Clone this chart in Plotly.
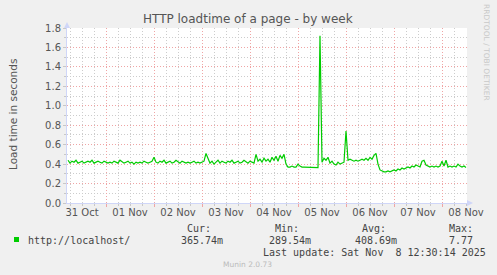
import datetime as dt
import plotly.graph_objects as go

# ---- data -----------------------------------------------------------------
start = dt.datetime(2025, 10, 31, 4, 30)
end = dt.datetime(2025, 11, 8, 12, 30)

load_seconds = [
    0.44, 0.41, 0.43, 0.42, 0.44, 0.41, 0.42, 0.43, 0.41, 0.42,
    0.43, 0.42, 0.44, 0.41, 0.42, 0.43, 0.42, 0.41, 0.43, 0.42,
    0.41, 0.42, 0.41, 0.43, 0.42, 0.41, 0.44, 0.42, 0.41, 0.42,
    0.43, 0.41, 0.42, 0.40, 0.42, 0.41, 0.42, 0.41, 0.43, 0.42,
    0.41, 0.42, 0.43, 0.47, 0.42, 0.41, 0.43, 0.42, 0.44, 0.41,
    0.42, 0.43, 0.41, 0.42, 0.44, 0.42, 0.41, 0.43, 0.42, 0.41,
    0.42, 0.41, 0.42, 0.43, 0.41, 0.42, 0.41, 0.42, 0.43, 0.51,
    0.45, 0.41, 0.43, 0.40, 0.42, 0.44, 0.41, 0.43, 0.42, 0.41,
    0.43, 0.42, 0.44, 0.41, 0.42, 0.43, 0.41, 0.42, 0.44, 0.42,
    0.41, 0.43, 0.42, 0.41, 0.50, 0.43, 0.45, 0.42, 0.46, 0.43,
    0.45, 0.42, 0.47, 0.44, 0.48, 0.43, 0.49, 0.46, 0.50, 0.40,
    0.37, 0.37, 0.38, 0.37, 0.37, 0.40, 0.38, 0.37, 0.37, 0.37,
    0.37, 0.37, 0.365, 0.365, 0.365, 0.365, 1.72, 0.42, 0.46, 0.44,
    0.47, 0.41, 0.43, 0.40, 0.39, 0.42, 0.40, 0.41, 0.42, 0.74,
    0.44, 0.45, 0.44, 0.43, 0.44, 0.43, 0.44, 0.45, 0.44, 0.46,
    0.44, 0.47, 0.45, 0.49, 0.51, 0.40, 0.34, 0.33, 0.32, 0.32,
    0.33, 0.32, 0.33, 0.34, 0.33, 0.35, 0.34, 0.36, 0.35, 0.36,
    0.37, 0.36, 0.38, 0.37, 0.39, 0.38, 0.37, 0.43, 0.44, 0.39,
    0.38, 0.37, 0.38, 0.37, 0.38, 0.37, 0.38, 0.43, 0.38, 0.44,
    0.37, 0.38, 0.37, 0.38, 0.37, 0.40, 0.38, 0.37, 0.38, 0.366,
]
times = [start + dt.timedelta(hours=i + 0.5) for i in range(len(load_seconds))]

day_labels = ["31 Oct", "01 Nov", "02 Nov", "03 Nov", "04 Nov",
              "05 Nov", "06 Nov", "07 Nov", "08 Nov"]
label_days = [dt.datetime(2025, 10, 31) + dt.timedelta(days=i) for i in range(len(day_labels))]
label_pos = [d + dt.timedelta(hours=12) for d in label_days]
midnights = [dt.datetime(2025, 11, 1) + dt.timedelta(days=i) for i in range(8)]

series_name = "http://localhost/"
stat_heads = ["Cur:", "Min:", "Avg:", "Max:"]
stat_vals = ["365.74m", "289.54m", "408.69m", "7.77"]
last_update = "Last update: Sat Nov  8 12:30:14 2025"

# ---- geometry helpers (pixels -> paper) ----------------------------------
L, R, T, B = 67, 30, 28, 72
W, H = 497, 275
PW, PH = W - L - R, H - T - B


def px(x):
    return (x - L) / PW


def py(y):
    return (H - B - y) / PH


fig = go.Figure()
fig.add_trace(go.Scatter(x=times, y=load_seconds, mode="lines",
                         line=dict(color="#00CC00", width=1.2),
                         hoverinfo="skip", xaxis="x", yaxis="y"))
fig.add_trace(go.Scatter(x=[start, end], y=[None, None], mode="lines",
                         xaxis="x2", yaxis="y", hoverinfo="skip",
                         showlegend=False))

grid_red = "#EFA5A5"
grid_grey = "#CCCCCC"
axis_col = "#CFD6F8"
tick_font = dict(family="DejaVu Sans", size=10, color="#555555")

fig.update_layout(
    width=W, height=H,
    margin=dict(l=L, r=R, t=T, b=B),
    paper_bgcolor="#F0F0F0", plot_bgcolor="#FFFFFF",
    showlegend=False,
    xaxis=dict(type="date", range=[start, end], tickvals=label_pos,
               ticktext=day_labels, showgrid=False, ticks="",
               showline=True, linecolor=axis_col, zeroline=False,
               tickfont=tick_font, fixedrange=True),
    xaxis2=dict(type="date", overlaying="x", anchor="y", side="bottom",
                range=[start, end], tickvals=midnights,
                showticklabels=False, showgrid=True, gridcolor=grid_red,
                griddash="1px,2px", ticks="outside", ticklen=3,
                tickcolor=grid_red, showline=False, zeroline=False,
                minor=dict(tick0=dt.datetime(2025, 10, 31), dtick=6 * 3600 * 1000,
                           showgrid=True, gridcolor=grid_grey,
                           griddash="1px,2px", ticks="outside", ticklen=2,
                           tickcolor="#C8C8C8")),
    yaxis=dict(range=[0, 1.8], tick0=0, dtick=0.2, tickformat=".1f",
               showgrid=True, gridcolor=grid_red, griddash="1px,2px",
               ticks="outside", ticklen=3, tickcolor="#C8C8C8",
               showline=True, linecolor=axis_col, zeroline=False,
               tickfont=tick_font, fixedrange=True,
               minor=dict(dtick=0.1, showgrid=True, gridcolor=grid_grey,
                          griddash="1px,2px", ticks="outside", ticklen=2,
                          tickcolor="#C8C8C8")),
)

annotations = [
    dict(text="HTTP loadtime of a page - by week", x=px(248), y=py(19),
         font=dict(family="DejaVu Sans", size=12, color="#555555")),
    dict(text="Load time in seconds", x=px(13), y=py(115), textangle=-90,
         font=dict(family="DejaVu Sans", size=10.5, color="#555555")),
    dict(text="RRDTOOL / TOBI OETIKER", x=px(487), y=py(52), textangle=90,
         font=dict(family="DejaVu Sans", size=7.5, color="#C8C8C8")),
    dict(text="Munin 2.0.73", x=px(247), y=py(264),
         font=dict(family="DejaVu Sans", size=7.5, color="#BBBBBB")),
]
mono = dict(family="DejaVu Sans Mono", size=10, color="#444444")
annotations.append(dict(text=series_name, x=px(26), y=py(240), xanchor="left", font=mono))
head_x = [185, 273, 360, 447]
val_x = [179, 267, 353, 447]
for hx, h in zip(head_x, stat_heads):
    annotations.append(dict(text=h, x=px(hx), y=py(228), xanchor="left", font=mono))
for vx, v in zip(val_x, stat_vals):
    annotations.append(dict(text=v, x=px(vx), y=py(240), xanchor="left", font=mono))
annotations.append(dict(text=last_update, x=px(261), y=py(252), xanchor="left", font=mono))

for a in annotations:
    a.setdefault("xanchor", "center")
    a.update(xref="paper", yref="paper", yanchor="middle", showarrow=False)
fig.update_layout(annotations=annotations)

# legend swatch and axis arrows
fig.add_shape(type="rect", xref="paper", yref="paper",
              x0=px(14), x1=px(19), y0=py(242), y1=py(237),
              fillcolor="#00CC00", line=dict(width=0))
fig.add_shape(type="path", xref="paper", yref="paper",
              path=f"M {px(64)} {py(28)} L {px(70)} {py(28)} L {px(67)} {py(22)} Z",
              fillcolor=axis_col, line=dict(width=0))
fig.add_shape(type="path", xref="paper", yref="paper",
              path=f"M {px(467)} {py(200)} L {px(467)} {py(206)} L {px(473)} {py(203)} Z",
              fillcolor=axis_col, line=dict(width=0))

fig.write_html("out.html")
